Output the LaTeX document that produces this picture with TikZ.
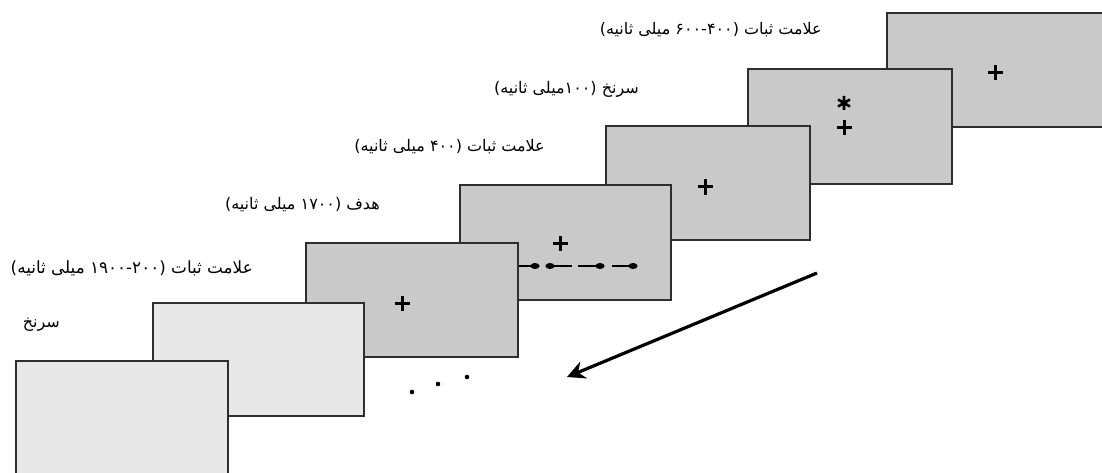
\documentclass[tikz,border=0pt]{standalone}
\usepackage{fontspec}
\newfontfamily\fa[Script=Arabic]{DejaVu Sans}
\usetikzlibrary{arrows.meta}
\definecolor{scrdark}{gray}{0.79}
\definecolor{scrlight}{gray}{0.91}
\definecolor{edge}{gray}{0.18}
\newcommand\fw[1]{\hbox{#1}}
\begin{document}
\begin{tikzpicture}[x=1pt,y=-1pt,
  screen/.style={draw=edge, line width=1.8pt, anchor=north west, inner sep=0pt},
  dark/.style={screen, fill=scrdark},
  light/.style={screen, fill=scrlight},
  lab/.style={anchor=east, inner sep=0pt, font=\fa\fontsize{16}{18}\selectfont},
  crossmark/.style={line width=3pt, black},
  dotline/.style={line width=1.5pt, black}]
\useasboundingbox (0,0) rectangle (1102,473);
\clip (0,0) rectangle (1102,473);
% screens, back to front
\node[dark, minimum width=240pt, minimum height=114pt] (s7) at (886,12) {};
\node[dark, minimum width=204pt, minimum height=115pt] (s6) at (747,68) {};
\node[dark, minimum width=204pt, minimum height=114pt] (s5) at (605,125) {};
\node[dark, minimum width=211pt, minimum height=115pt] (s4) at (459,184) {};
\node[dark, minimum width=212pt, minimum height=114pt] (s3) at (305,242) {};
\node[light, minimum width=211pt, minimum height=113pt] (s2) at (152,302) {};
\node[light, minimum width=212pt, minimum height=125pt] (s1) at (15,360) {};
% fixation crosses
\draw[crossmark] (987.5,73) -- (1002.5,73) (995,65.5) -- (995,80.5);
\draw[crossmark] (836.5,128) -- (851.5,128) (844,120.5) -- (844,135.5);
\draw[crossmark, line width=2.6pt] (844,96) -- (844,110) (838,99.5) -- (850,106.5) (838,106.5) -- (850,99.5);
\draw[crossmark] (697.5,187) -- (712.5,187) (705,179.5) -- (705,194.5);
\draw[crossmark] (552.5,243) -- (567.5,243) (560,235.5) -- (560,250.5);
\draw[crossmark] (394.5,303) -- (409.5,303) (402,295.5) -- (402,310.5);
% target motion row
\coordinate (r0) at (s3.east |- 0,266);
\coordinate (r1) at (535,266);
\coordinate (r2) at (550,266);
\coordinate (r3) at (600,266);
\coordinate (r4) at (633,266);
\draw[dotline] (r0) -- (r1);
\draw[dotline] (r2) -- (572,266);
\draw[dotline] (578,266) -- (r3);
\draw[dotline] (612,266) -- (r4);
\foreach \p in {r1,r2,r3,r4} \fill (\p) ellipse (4.6 and 3);
% continuation dots
\fill (412,392) circle (2.3);
\fill (438,384) circle (2.3);
\fill (467,377) circle (2.3);
% big arrow
\coordinate (a0) at (817,273);
\coordinate (a1) at (567,377);
\draw[line width=3.2pt, black, -{Stealth[length=18pt,width=18pt,inset=6pt]}] (a0) -- (a1);
% labels (visual order)
\node[lab] (t1) at (822,30) {\fw{)}\fw{ثانیه} \fw{میلی} \fw{۶۰۰}\fw{-}\fw{۴۰۰}\fw{(} \fw{ثبات} \fw{علامت}};
\node[lab] (t2) at (639,89) {\fw{)}\fw{ثانیه} \fw{میلی}\fw{۱۰۰}\fw{(} \fw{سرنخ}};
\node[lab] (t3) at (545,147) {\fw{)}\fw{ثانیه} \fw{میلی} \fw{۴۰۰}\fw{(} \fw{ثبات} \fw{علامت}};
\node[lab] (t4) at (380,205) {\fw{)}\fw{ثانیه} \fw{میلی} \fw{۱۷۰۰}\fw{(} \fw{هدف}};
\node[lab, font=\fa\fontsize{16.8}{18}\selectfont] (t5) at (253,268) {\fw{)}\fw{ثانیه} \fw{میلی} \fw{۱۹۰۰}\fw{-}\fw{۲۰۰}\fw{(} \fw{ثبات} \fw{علامت}};
\node[lab] (t6) at (60,325) {\fw{سرنخ}};
\end{tikzpicture}
\end{document}
